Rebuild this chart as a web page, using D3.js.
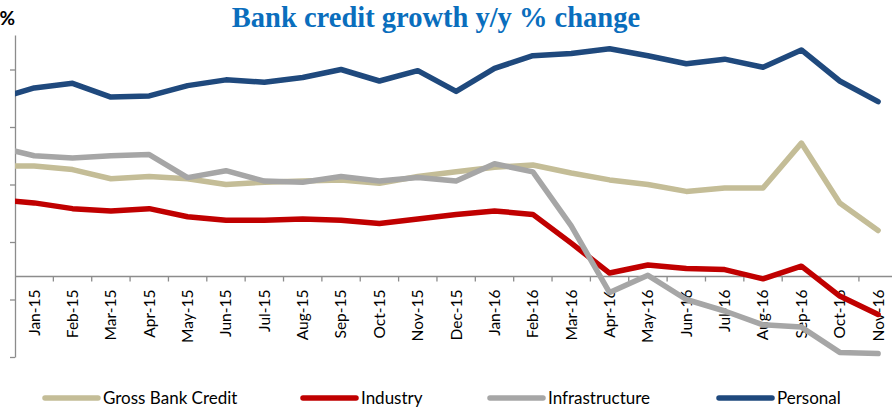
<!DOCTYPE html>
<html>
<head>
<meta charset="utf-8">
<script src="https://cdn.jsdelivr.net/npm/d3@7"></script>
<style>
  body { margin: 0; background: #fff; }
  svg { display: block; }
</style>
</head>
<body>
<svg></svg>
<script>
// data (Dec-14 only shows as the stub at the left edge)
var months = ["Dec-14", "Jan-15", "Feb-15", "Mar-15", "Apr-15", "May-15", "Jun-15", "Jul-15",
  "Aug-15", "Sep-15", "Oct-15", "Nov-15", "Dec-15", "Jan-16", "Feb-16", "Mar-16",
  "Apr-16", "May-16", "Jun-16", "Jul-16", "Aug-16", "Sep-16", "Oct-16", "Nov-16"];
var grossBankCredit = [9.6, 9.6, 9.3, 8.5, 8.7, 8.5, 8.0, 8.2, 8.3, 8.4, 8.1, 8.7,
  9.1, 9.5, 9.7, 9.0, 8.4, 8.0, 7.4, 7.7, 7.7, 11.6, 6.4, 4.0];
var industry = [6.7, 6.4, 5.9, 5.7, 5.9, 5.2, 4.9, 4.9, 5.0, 4.9, 4.6, 5.0,
  5.4, 5.7, 5.4, 2.9, 0.3, 1.0, 0.7, 0.6, -0.2, 0.9, -1.7, -3.3];
var infrastructure = [11.3, 10.5, 10.3, 10.5, 10.6, 8.6, 9.2, 8.3, 8.2, 8.7, 8.3, 8.6,
  8.3, 9.8, 9.1, 4.4, -1.4, 0.1, -2.0, -3.0, -4.2, -4.4, -6.6, -6.7];
var personal = [15.4, 16.4, 16.8, 15.6, 15.7, 16.6, 17.1, 16.9, 17.3, 18.0, 17.0, 17.9,
  16.1, 18.1, 19.2, 19.4, 19.8, 19.2, 18.5, 18.9, 18.2, 19.7, 17.0, 15.2];
var seriesNames = ["Gross Bank Credit", "Industry", "Infrastructure", "Personal"];
var yTicks = [-7, -2, 3, 8, 13, 18];

var width = 892, height = 408;
var svg = d3.select("svg").attr("width", width).attr("height", height);

var colors = ["#c4bd97", "#c00000", "#a6a6a6", "#1f497d"];
var allSeries = [grossBankCredit, industry, infrastructure, personal];

// plot area
var left = 15, bw = 38.36;
var x = d3.scaleBand().domain(months).range([left - bw, left + (months.length - 1) * bw]);
var y = d3.scaleLinear().domain([-7, 21]).range([357, 35]);

// title
svg.append("text")
  .attr("x", 436).attr("y", 27)
  .attr("text-anchor", "middle")
  .attr("font-family", "Liberation Serif")
  .attr("font-weight", "bold")
  .attr("font-size", "28.5px")
  .attr("fill", "#0a6ebd")
  .text("Bank credit growth y/y % change");

svg.append("text")
  .attr("x", left).attr("y", 25)
  .attr("text-anchor", "end")
  .attr("font-family", "Lato")
  .attr("font-weight", "bold")
  .attr("font-size", "19px")
  .attr("fill", "#000")
  .text("%");

// y axis
var yAxis = svg.append("g")
  .attr("transform", "translate(" + left + ",0)")
  .call(d3.axisLeft(y).tickValues(yTicks).tickSize(5).tickSizeOuter(0).tickFormat(""));
yAxis.selectAll("path, line").attr("stroke", "#8c8c8c").attr("stroke-width", 1.3);

// x axis at 0
var xAxis = svg.append("g")
  .attr("transform", "translate(0," + y(0) + ")")
  .call(d3.axisBottom(x).tickValues(months.slice(1)).tickSize(0).tickSizeOuter(0));
xAxis.select(".domain").remove();
xAxis.append("line")
  .attr("x1", left).attr("x2", width)
  .attr("stroke", "#8c8c8c").attr("stroke-width", 1.3);
xAxis.selectAll(".bound")
  .data(months.slice(1))
  .enter().append("line")
  .attr("class", "bound")
  .attr("x1", function (d) { return x(d) + bw; })
  .attr("x2", function (d) { return x(d) + bw; })
  .attr("y1", 0).attr("y2", 5)
  .attr("stroke", "#8c8c8c").attr("stroke-width", 1.3);
xAxis.selectAll(".tick text")
  .attr("transform", "rotate(-90)")
  .attr("text-anchor", "end")
  .attr("x", -13).attr("y", 0).attr("dy", "0.35em")
  .attr("font-family", "Lato")
  .attr("font-size", "15.5px")
  .attr("fill", "#000");

// lines
svg.append("clipPath").attr("id", "plot")
  .append("rect").attr("x", left).attr("y", 0).attr("width", width).attr("height", height);

var line = d3.line()
  .x(function (d, i) { return x(months[i]) + bw / 2; })
  .y(function (d) { return y(d); });

svg.append("g").attr("clip-path", "url(#plot)")
  .selectAll("path")
  .data(allSeries)
  .enter().append("path")
  .attr("d", line)
  .attr("fill", "none")
  .attr("stroke", function (d, i) { return colors[i]; })
  .attr("stroke-width", 5.5)
  .attr("stroke-linejoin", "round")
  .attr("stroke-linecap", "round");

// legend
var legendX = [45, 303, 490, 719];
var legend = svg.selectAll(".legend")
  .data(seriesNames)
  .enter().append("g")
  .attr("class", "legend")
  .attr("transform", function (d, i) { return "translate(" + legendX[i] + ",398)"; });
legend.append("line")
  .attr("x1", 0).attr("x2", 53)
  .attr("stroke", function (d, i) { return colors[i]; })
  .attr("stroke-width", 5.5)
  .attr("stroke-linecap", "round");
legend.append("text")
  .attr("x", 58).attr("y", 6)
  .attr("font-family", "Lato")
  .attr("font-size", "17px")
  .attr("fill", "#000")
  .text(function (d) { return d; });
</script>
</body>
</html>
